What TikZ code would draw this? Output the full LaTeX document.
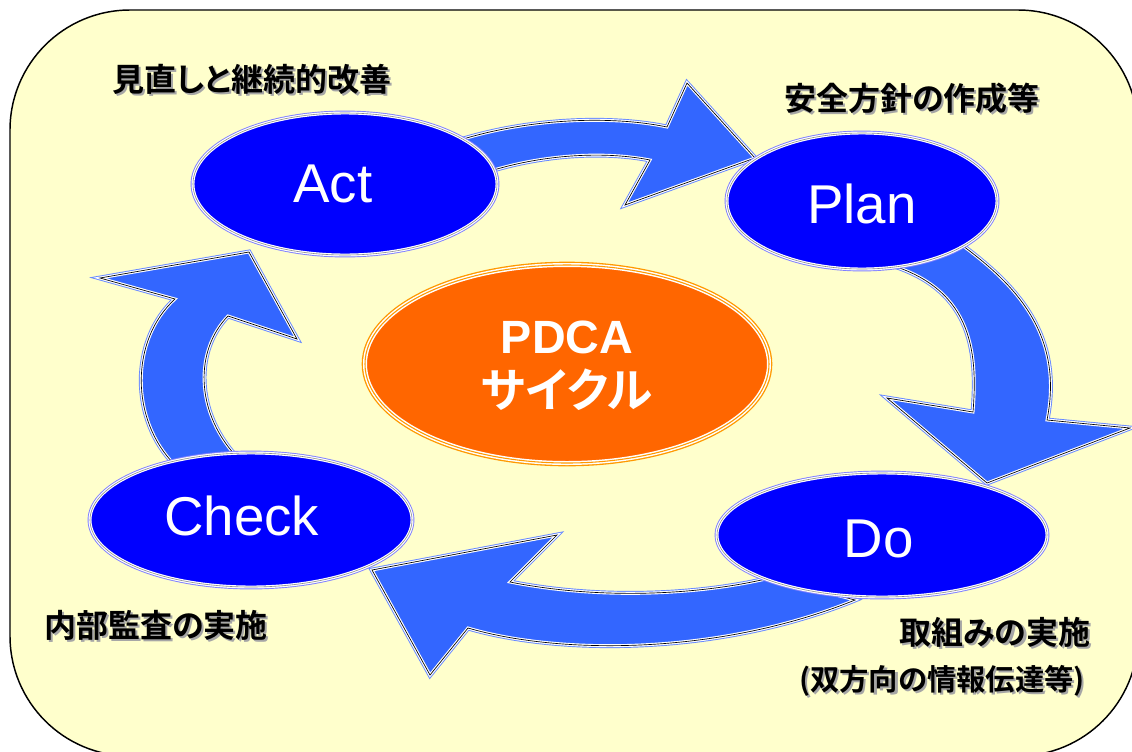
\documentclass[tikz,border=0pt]{standalone}
\usepackage{fontspec}
\setmainfont{Liberation Sans}
\newfontfamily\cjk{Noto Sans CJK JP}[BoldFont={Noto Sans CJK JP Bold},RawFeature={+palt}]
\usetikzlibrary{shapes.geometric}
\definecolor{bgyellow}{HTML}{FFFFCC}
\definecolor{ellblue}{HTML}{0000FF}
\definecolor{ellrim}{HTML}{8080FF}
\definecolor{arrblue}{HTML}{3366FF}
\definecolor{arrrim}{HTML}{6688FF}
\definecolor{pdcaorange}{HTML}{FF6600}
\definecolor{pdcarim}{HTML}{FF9900}
\newcommand\shtext[1]{\makebox[0pt][l]{\kern1.6pt\raisebox{-1.6pt}{\textcolor{black!35}{#1}}}#1}
\tikzset{
  ellnode/.style={ellipse, inner sep=0pt, fill=ellblue, text=white,
    font=\fontsize{41}{48}\selectfont,
    preaction={draw=ellrim, line width=3.6pt},
    draw=white, line width=2.2pt,
    postaction={draw=black!45, line width=0.45pt}},
  pdcanode/.style={ellipse, inner sep=0pt, fill=pdcaorange, text=white,
    font=\fontsize{35}{38}\selectfont\bfseries,
    preaction={draw=pdcarim, line width=5pt},
    draw=white, line width=3pt,
    postaction={draw=pdcarim, line width=0.8pt}},
  blockarrow/.style={fill=arrblue,
    preaction={draw=arrrim, line width=3.6pt, line join=miter},
    draw=white, line width=2.2pt, line join=miter,
    postaction={draw=black, line width=0.5pt, line join=miter}},
  jplabel/.style={inner sep=0pt, font=\cjk\bfseries\fontsize{24}{28}\selectfont},
  jpsmall/.style={inner sep=0pt, font=\cjk\bfseries\fontsize{22}{26}\selectfont},
}
\begin{document}
\begin{tikzpicture}[x=0.75pt,y=-0.75pt]
\useasboundingbox (0,0) rectangle (1132,751);
% background panel
\draw[fill=bgyellow, draw=black, line width=1.1pt, rounded corners=90pt]
  (10,10) rectangle (1138,756);

% block arrows (drawn beneath the ellipses)
\path[blockarrow] (445,145) .. controls (520,118) and (610,115) .. (667,127)
  -- (687,83) -- (755,158) -- (625,205) -- (650,160)
  .. controls (600,150) and (530,155) .. (470,178) -- cycle;
\path[blockarrow] (955,240) .. controls (1010,280) and (1065,330) .. (1047,420)
  -- (1130,428) -- (987,483) -- (887,398) -- (973,412)
  .. controls (978,350) and (972,285) .. (880,262) -- cycle;
\path[blockarrow] (770,578) .. controls (700,595) and (600,600) .. (510,582)
  -- (557,535) -- (372,570) -- (430,675) -- (468,628)
  .. controls (560,655) and (720,655) .. (855,600) -- cycle;
\path[blockarrow] (175,465) .. controls (130,420) and (130,340) .. (175,299)
  -- (100,278) -- (249,252) -- (297,339) -- (228,316)
  .. controls (195,350) and (195,410) .. (235,455) -- cycle;

% stage ellipses
\node[ellnode, minimum width=228pt, minimum height=106.5pt] (act) at (345,184) {\kern-18pt Act};
\node[ellnode, minimum width=202.5pt, minimum height=102pt] (plan) at (862,201) {\raisebox{-2pt}[\height][\depth]{Plan}};
\node[ellnode, minimum width=247.5pt, minimum height=93pt] (do) at (882,535) {\raisebox{-3pt}[\height][\depth]{Do\kern5pt}};
\node[ellnode, minimum width=241.5pt, minimum height=100.5pt] (check) at (251,520) {\raisebox{3pt}[\height][\depth]{Check\kern14pt}};

% centre
\node[pdcanode, minimum width=303pt, minimum height=148.5pt] (pdca) at (567,364)
  {\raisebox{-5pt}[\height][\depth]{\begin{tabular}{@{}c@{}}PDCA\\{\cjk\bfseries サイクル}\end{tabular}}};

% labels
\node[jplabel] (lblact) at (252,80) {\shtext{見直しと継続的改善}};
\node[jplabel] (lblplan) at (912,99) {\shtext{安全方針の作成等}};
\node[jplabel] (lblcheck) at (156,626) {\shtext{内部監査の実施}};
\node[jplabel] (lbldo) at (995,633) {\shtext{取組みの実施}};
\node[jpsmall] (lbldo2) at (942,682) {\shtext{(双方向の情報伝達等)}};
\end{tikzpicture}
\end{document}
